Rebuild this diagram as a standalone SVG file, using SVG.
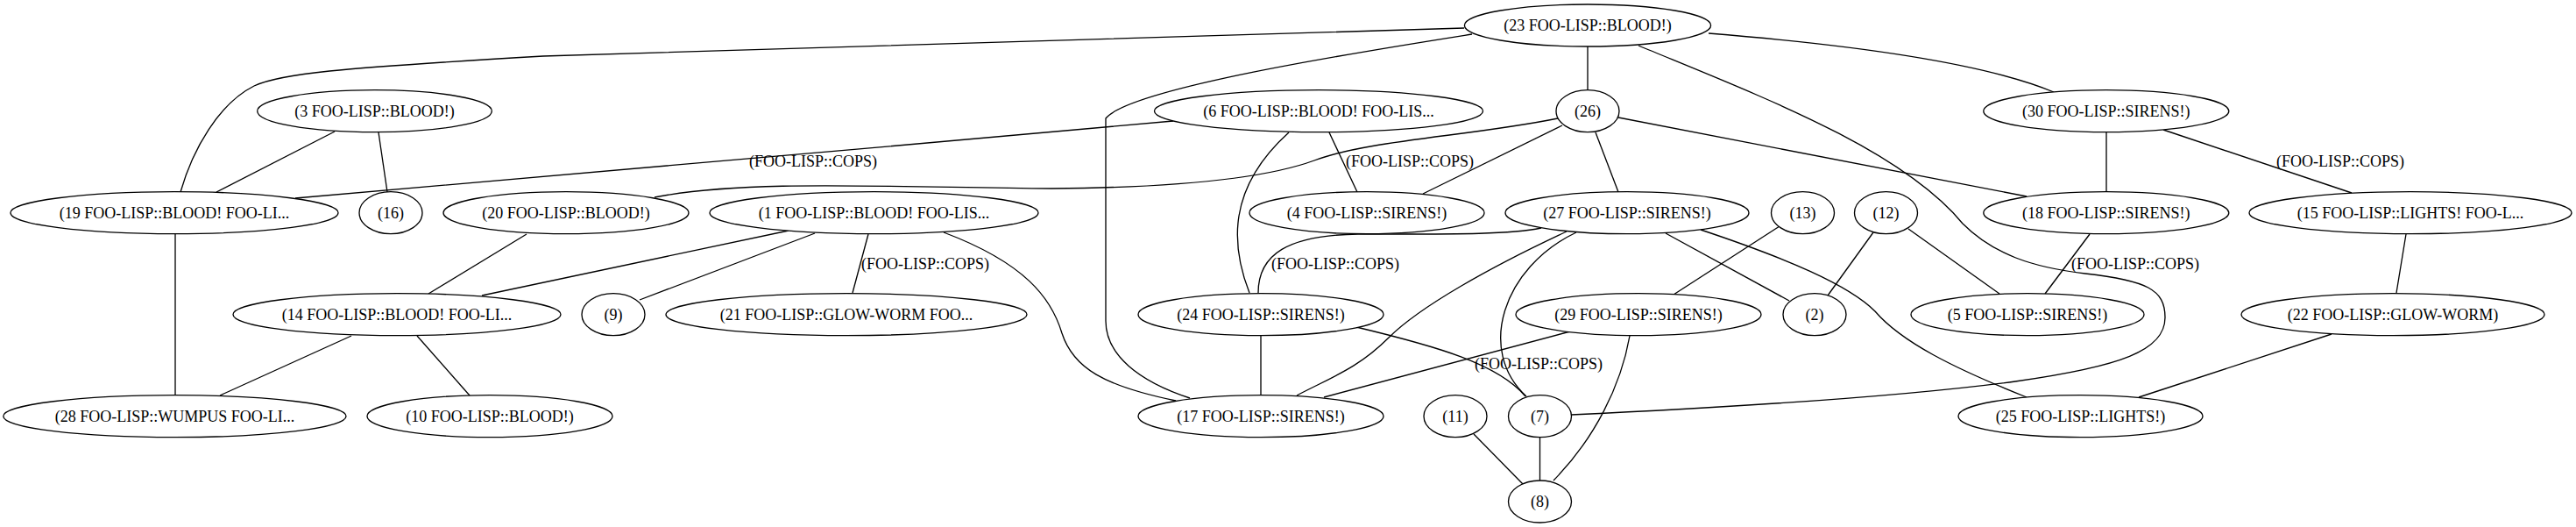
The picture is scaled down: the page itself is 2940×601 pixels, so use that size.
<svg xmlns="http://www.w3.org/2000/svg" width="2940" height="601" viewBox="0 0 2940 601">
<style>
.n ellipse{fill:#fff;stroke:#000;stroke-width:1.33}
text{font-family:"Liberation Serif","Times New Roman",serif;font-size:18px;fill:#000}
.n text{text-anchor:middle}
.e path{fill:none;stroke:#000;stroke-width:1.33}
.e text{text-anchor:middle}
</style>
<rect width="2940" height="601" fill="#fff"/>
<g class="e" id="edges">
<path d="M1671,32 L620,64 C380,78 320,84 290,98 C250,118 220,170 206,219"/>
<path d="M1680,39 C1560,58 1290,100 1262,135 L1262,366 C1262,405 1300,435 1358,454"/>
<path d="M1812,53 L1812,103"/>
<path d="M1950,38 C2100,50 2260,70 2344,105"/>
<path d="M1870,52 C2010,110 2170,170 2240,255 C2275,290 2320,305 2380,312 C2450,320 2471,330 2471,362 C2471,400 2420,418 2300,435 C2150,455 1900,468 1793,473"/>
<path d="M382,150 L247,219"/>
<path d="M432,151 L442,219"/>
<path d="M1339,138 C1000,170 600,200 337,226"/>
<text x="928" y="190">(FOO-LISP::COPS)</text>
<path d="M1517,151 L1549,219"/>
<text x="1609" y="190">(FOO-LISP::COPS)</text>
<path d="M1471,151 C1400,215 1405,280 1426,334"/>
<path d="M1778,135 C1680,155 1560,160 1500,183 C1440,205 1330,214 1200,215 C1000,213 850,205 747,225"/>
<path d="M1783,143 L1624,221"/>
<path d="M1821,151 L1847,219"/>
<path d="M1847,134 L2313,224"/>
<path d="M2404,151 L2404,219"/>
<path d="M2469,148 L2684,220"/>
<text x="2671" y="190">(FOO-LISP::COPS)</text>
<path d="M2746,267 L2735,334"/>
<path d="M2661,381 L2441,453"/>
<path d="M601,267 L489,335"/>
<path d="M900,263 L550,337"/>
<path d="M930,266 L730,342"/>
<path d="M991,267 L973,334"/>
<text x="1056" y="307">(FOO-LISP::COPS)</text>
<path d="M1077,265 C1170,300 1200,340 1212,380 C1225,420 1260,440 1342,457"/>
<path d="M200,267 L200,451"/>
<path d="M401,383 L251,451"/>
<path d="M476,383 L536,451"/>
<path d="M1759,260 C1720,268 1650,267 1550,267 C1470,268 1436,290 1436,334"/>
<text x="1524" y="307">(FOO-LISP::COPS)</text>
<path d="M1788,264 C1700,305 1620,350 1585,385 C1550,420 1520,430 1480,451"/>
<path d="M1799,265 C1715,305 1685,400 1742,452"/>
<path d="M1901,266 L2042,343"/>
<path d="M1941,262 C2040,295 2110,325 2140,355 C2170,390 2230,420 2313,453"/>
<path d="M2031,258 L1910,336"/>
<path d="M2138,265 L2086,337"/>
<path d="M2178,261 L2282,335"/>
<path d="M2385,267 L2334,335"/>
<text x="2437" y="307">(FOO-LISP::COPS)</text>
<path d="M1439,383 L1439,451"/>
<path d="M1548,373 C1640,395 1710,415 1741,452"/>
<text x="1756" y="421">(FOO-LISP::COPS)</text>
<path d="M1792,378 L1511,453"/>
<path d="M1860,383 C1850,440 1820,500 1773,548"/>
<path d="M1682,495 L1738,552"/>
<path d="M1757.5,498 L1757.5,548"/>
</g>
<g class="n" id="n23"><ellipse cx="1812" cy="29" rx="140.6" ry="24"/><text x="1812" y="35">(23 FOO-LISP::BLOOD!)</text></g>
<g class="n" id="n3"><ellipse cx="427.5" cy="126.7" rx="133.8" ry="24"/><text x="427.5" y="133">(3 FOO-LISP::BLOOD!)</text></g>
<g class="n" id="n6"><ellipse cx="1505" cy="126.7" rx="187.5" ry="24"/><text x="1505" y="133">(6 FOO-LISP::BLOOD! FOO-LIS...</text></g>
<g class="n" id="n26"><ellipse cx="1812" cy="126.7" rx="36" ry="24"/><text x="1812" y="133">(26)</text></g>
<g class="n" id="n30"><ellipse cx="2403.8" cy="126.7" rx="140" ry="24"/><text x="2403.8" y="133">(30 FOO-LISP::SIRENS!)</text></g>
<g class="n" id="n19"><ellipse cx="199" cy="242.7" rx="187" ry="24"/><text x="199" y="249">(19 FOO-LISP::BLOOD! FOO-LI...</text></g>
<g class="n" id="n16"><ellipse cx="446" cy="242.7" rx="36" ry="24"/><text x="446" y="249">(16)</text></g>
<g class="n" id="n20"><ellipse cx="646" cy="242.7" rx="140" ry="24"/><text x="646" y="249">(20 FOO-LISP::BLOOD!)</text></g>
<g class="n" id="n1"><ellipse cx="997.5" cy="242.7" rx="187.5" ry="24"/><text x="997.5" y="249">(1 FOO-LISP::BLOOD! FOO-LIS...</text></g>
<g class="n" id="n4"><ellipse cx="1560" cy="242.7" rx="134" ry="24"/><text x="1560" y="249">(4 FOO-LISP::SIRENS!)</text></g>
<g class="n" id="n27"><ellipse cx="1857" cy="242.7" rx="139" ry="24"/><text x="1857" y="249">(27 FOO-LISP::SIRENS!)</text></g>
<g class="n" id="n13"><ellipse cx="2057.5" cy="242.7" rx="36" ry="24"/><text x="2057.5" y="249">(13)</text></g>
<g class="n" id="n12"><ellipse cx="2152.5" cy="242.7" rx="36" ry="24"/><text x="2152.5" y="249">(12)</text></g>
<g class="n" id="n18"><ellipse cx="2403.8" cy="242.7" rx="140" ry="24"/><text x="2403.8" y="249">(18 FOO-LISP::SIRENS!)</text></g>
<g class="n" id="n15"><ellipse cx="2751" cy="242.7" rx="184" ry="24"/><text x="2751" y="249">(15 FOO-LISP::LIGHTS! FOO-L...</text></g>
<g class="n" id="n14"><ellipse cx="453" cy="358.7" rx="187" ry="24"/><text x="453" y="365">(14 FOO-LISP::BLOOD! FOO-LI...</text></g>
<g class="n" id="n9"><ellipse cx="700" cy="358.7" rx="36" ry="24"/><text x="700" y="365">(9)</text></g>
<g class="n" id="n21"><ellipse cx="966" cy="358.7" rx="206" ry="24"/><text x="966" y="365">(21 FOO-LISP::GLOW-WORM FOO...</text></g>
<g class="n" id="n24"><ellipse cx="1439" cy="358.7" rx="140" ry="24"/><text x="1439" y="365">(24 FOO-LISP::SIRENS!)</text></g>
<g class="n" id="n29"><ellipse cx="1870" cy="358.7" rx="140" ry="24"/><text x="1870" y="365">(29 FOO-LISP::SIRENS!)</text></g>
<g class="n" id="n2"><ellipse cx="2071" cy="358.7" rx="36" ry="24"/><text x="2071" y="365">(2)</text></g>
<g class="n" id="n5"><ellipse cx="2314" cy="358.7" rx="133" ry="24"/><text x="2314" y="365">(5 FOO-LISP::SIRENS!)</text></g>
<g class="n" id="n22"><ellipse cx="2731" cy="358.7" rx="173" ry="24"/><text x="2731" y="365">(22 FOO-LISP::GLOW-WORM)</text></g>
<g class="n" id="n28"><ellipse cx="199.4" cy="474.7" rx="195.6" ry="24"/><text x="199.4" y="481">(28 FOO-LISP::WUMPUS FOO-LI...</text></g>
<g class="n" id="n10"><ellipse cx="559" cy="474.7" rx="140" ry="24"/><text x="559" y="481">(10 FOO-LISP::BLOOD!)</text></g>
<g class="n" id="n17"><ellipse cx="1439" cy="474.7" rx="140" ry="24"/><text x="1439" y="481">(17 FOO-LISP::SIRENS!)</text></g>
<g class="n" id="n11"><ellipse cx="1661" cy="474.7" rx="36" ry="24"/><text x="1661" y="481">(11)</text></g>
<g class="n" id="n7"><ellipse cx="1757.5" cy="474.7" rx="36" ry="24"/><text x="1757.5" y="481">(7)</text></g>
<g class="n" id="n25"><ellipse cx="2374.5" cy="474.7" rx="139.5" ry="24"/><text x="2374.5" y="481">(25 FOO-LISP::LIGHTS!)</text></g>
<g class="n" id="n8"><ellipse cx="1757.5" cy="572" rx="36" ry="24"/><text x="1757.5" y="578">(8)</text></g>
</svg>
